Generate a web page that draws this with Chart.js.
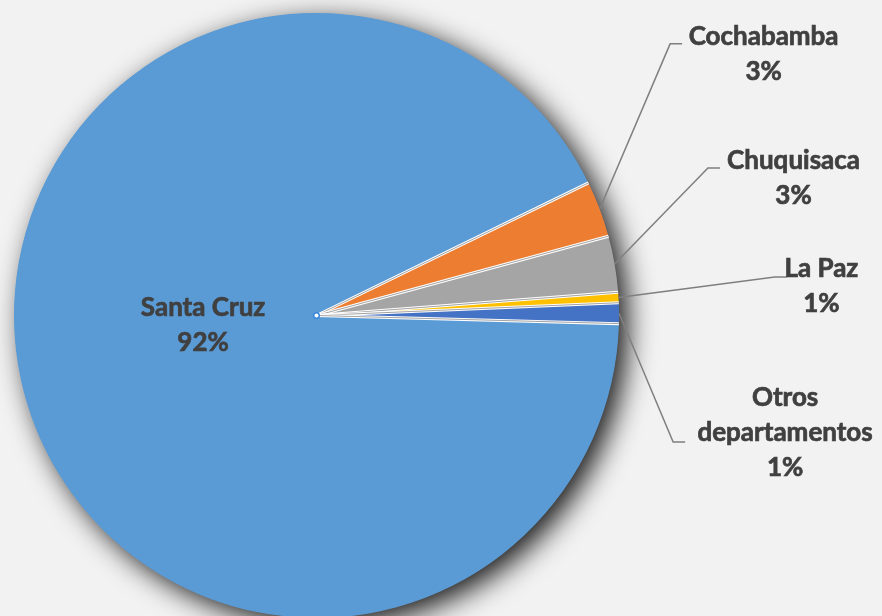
<!DOCTYPE html>
<html>
<head>
<meta charset="utf-8">
<script src="https://cdn.jsdelivr.net/npm/chart.js@4.4.1/dist/chart.umd.min.js"></script>
<style>
  html, body { margin: 0; padding: 0; background: #f2f2f2; overflow: hidden; }
  #wrap { width: 882px; height: 640px; position: relative; }
</style>
</head>
<body>
<div id="wrap"><canvas id="pieChart"></canvas></div>
<script>
// departamentos, in clockwise order starting from the orange slice
const categories = ['Cochabamba', 'Chuquisaca', 'La Paz', 'Otros departamentos', 'Santa Cruz'];
const shares = [3.0, 3.0, 0.55, 1.1, 92.35];
const colors = ['#ed7d31', '#a5a5a5', '#ffc000', '#4472c4', '#5b9bd5'];

// label placement, in units of the pie radius from the pie centre
const labelAt = [[1.478, -0.863], [1.577, -0.455], [1.669, -0.098], [1.549, 0.387], [-0.375, 0.033]];
// leader elbow (null = label sits inside the pie)
const elbowAt = [[1.169, -0.898], [1.294, -0.488], [1.515, -0.127], [1.179, 0.418], null];

const FONT = 'bold 26px Lato, "Open Sans", sans-serif';
const TEXT = '#404040';

function wrapText(ctx, text, maxW) {
  if (ctx.measureText(text).width <= maxW) return [text];
  return text.split(' ');
}

const pieShadow = {
  id: 'pieShadow',
  beforeDatasetsDraw(chart) {
    const arc = chart.getDatasetMeta(0).data[0];
    const ctx = chart.ctx;
    ctx.save();
    ctx.shadowColor = 'rgba(0,0,0,0.9)';
    ctx.shadowBlur = 28;
    ctx.shadowOffsetX = 9;
    ctx.shadowOffsetY = 8;
    ctx.fillStyle = colors[4];
    ctx.beginPath();
    ctx.arc(arc.x, arc.y, arc.outerRadius - 0.5, 0, Math.PI * 2);
    ctx.fill();
    ctx.restore();
  }
};

const pieDecor = {
  id: 'pieDecor',
  afterDatasetsDraw(chart) {
    const ctx = chart.ctx;
    const arcs = chart.getDatasetMeta(0).data;
    const cx = arcs[0].x, cy = arcs[0].y, R = arcs[0].outerRadius;

    // slice separators
    arcs.forEach(a => {
      const ex = cx + Math.cos(a.startAngle) * R, ey = cy + Math.sin(a.startAngle) * R;
      ctx.save();
      ctx.lineCap = 'butt';
      ctx.strokeStyle = '#ffffff'; ctx.lineWidth = 3;
      ctx.beginPath(); ctx.moveTo(cx, cy); ctx.lineTo(ex, ey); ctx.stroke();
      ctx.strokeStyle = '#8c8c8c'; ctx.lineWidth = 0.8;
      ctx.beginPath(); ctx.moveTo(cx, cy); ctx.lineTo(ex, ey); ctx.stroke();
      ctx.restore();
    });

    // small centre handle
    ctx.save();
    ctx.fillStyle = '#ffffff'; ctx.strokeStyle = '#3a86dd'; ctx.lineWidth = 1.5;
    ctx.beginPath(); ctx.arc(cx, cy, 2.8, 0, Math.PI * 2); ctx.fill(); ctx.stroke();
    ctx.restore();

    // leader lines and labels
    ctx.save();
    ctx.font = FONT;
    ctx.fillStyle = TEXT;
    ctx.strokeStyle = TEXT;
    ctx.textAlign = 'center';
    ctx.textBaseline = 'middle';
    arcs.forEach((a, i) => {
      const lx = cx + labelAt[i][0] * R, ly = cy + labelAt[i][1] * R;
      const el = elbowAt[i];
      if (el) {
        const mid = (a.startAngle + a.endAngle) / 2;
        const sx = cx + Math.cos(mid) * R, sy = cy + Math.sin(mid) * R;
        const bx = cx + el[0] * R, by = cy + el[1] * R;
        ctx.save();
        ctx.strokeStyle = '#7f7f7f'; ctx.lineWidth = 1.5;
        ctx.beginPath();
        ctx.moveTo(sx, sy);
        ctx.lineTo(bx, by);
        ctx.lineTo(bx + 12, by);
        ctx.stroke();
        ctx.restore();
      }
      const lines = wrapText(ctx, categories[i], 200).concat([Math.round(shares[i]) + '%']);
      const lh = 35;
      const top = ly - (lines.length - 1) * lh / 2;
      ctx.lineWidth = 0.7;
      lines.forEach((t, k) => {
        ctx.fillText(t, lx, top + k * lh);
        ctx.strokeText(t, lx, top + k * lh);
      });
    });
    ctx.restore();
  }
};

new Chart(document.getElementById('pieChart'), {
  type: 'pie',
  data: {
    labels: categories,
    datasets: [{
      data: shares,
      backgroundColor: colors,
      borderWidth: 0,
      hoverOffset: 0
    }]
  },
  options: {
    responsive: true,
    maintainAspectRatio: false,
    animation: false,
    events: [],
    rotation: 64,
    layout: { padding: { left: 14, top: 13, right: 263, bottom: 22 } },
    plugins: { legend: { display: false }, tooltip: { enabled: false } }
  },
  plugins: [pieShadow, pieDecor]
});
</script>
</body>
</html>
